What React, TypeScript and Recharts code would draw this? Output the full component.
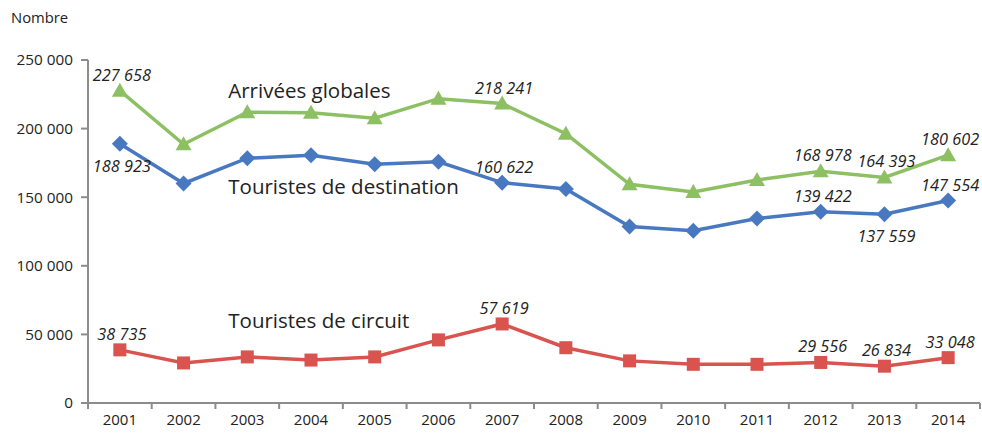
import React from "react"
import { LineChart, Line, XAxis, YAxis } from "recharts"

const years = ["2001", "2002", "2003", "2004", "2005", "2006", "2007", "2008", "2009", "2010", "2011", "2012", "2013", "2014"]
const globales = [227658, 188600, 212000, 211500, 207600, 221800, 218241, 196300, 159400, 153800, 162500, 168978, 164393, 180602]
const destination = [188923, 160000, 178400, 180500, 174000, 175800, 160622, 156000, 128700, 125600, 134500, 139422, 137559, 147554]
const circuit = [38735, 29200, 33600, 31300, 33600, 46000, 57619, 40300, 30700, 28200, 28200, 29556, 26834, 33048]
const yTicks = [0, 50000, 100000, 150000, 200000, 250000]

// which points carry a value label, and where it goes
const globalesLabels: Record<number, "above" | "below"> = { 0: "above", 6: "above", 11: "above", 12: "above", 13: "above" }
const destinationLabels: Record<number, "above" | "below"> = { 0: "below", 6: "above", 11: "above", 12: "below", 13: "above" }
const circuitLabels: Record<number, "above" | "below"> = { 0: "above", 6: "above", 11: "above", 12: "above", 13: "above" }

const GREEN = "#8cc063"
const BLUE = "#4878c0"
const RED = "#d9534f"
const AXIS = "#8c8c8c"
const FONT = "'Open Sans', sans-serif"

const W = 982
const H = 435
const LEFT = 88
const RIGHT = 2
const HALF_BAND = (W - LEFT - RIGHT) / years.length / 2

const data = years.map((year, i) => ({
  year,
  globales: globales[i],
  destination: destination[i],
  circuit: circuit[i],
}))

const fmt = (v: number) => String(v).replace(/\B(?=(\d{3})+(?!\d))/g, " ")

function XTick(props: any) {
  const { x, y, payload, index } = props
  const last = index === years.length - 1
  return (
    <g>
      <line x1={x - HALF_BAND} x2={x - HALF_BAND} y1={y} y2={y + 6} stroke={AXIS} strokeWidth={2} />
      {last && <line x1={x + HALF_BAND} x2={x + HALF_BAND} y1={y} y2={y + 6} stroke={AXIS} strokeWidth={2} />}
      <text x={x} y={y + 22} textAnchor="middle" fontSize={15} fill="#222" fontFamily={FONT}>
        {payload.value}
      </text>
    </g>
  )
}

function Triangle(props: any) {
  const { cx, cy } = props
  if (cx == null || cy == null) return null
  return <path d={`M${cx},${cy - 8} L${cx + 8},${cy + 6} L${cx - 8},${cy + 6} Z`} fill={GREEN} />
}

function Diamond(props: any) {
  const { cx, cy } = props
  if (cx == null || cy == null) return null
  return <path d={`M${cx},${cy - 8} L${cx + 8},${cy} L${cx},${cy + 8} L${cx - 8},${cy} Z`} fill={BLUE} />
}

function Square(props: any) {
  const { cx, cy } = props
  if (cx == null || cy == null) return null
  return <rect x={cx - 6.5} y={cy - 6.5} width={13} height={13} fill={RED} />
}

function makeLabel(spots: Record<number, "above" | "below">, name: string, nameDy: number) {
  return (props: any) => {
    const { x, y, value, index } = props
    const items = []
    if (index === 2) {
      items.push(
        <text key="n" x={x - 19} y={y + nameDy} dominantBaseline="central" fontSize={20.5} fill="#222" fontFamily={FONT}>
          {name}
        </text>
      )
    }
    const pos = spots[index]
    if (pos) {
      items.push(
        <text
          key="v"
          x={x + 2}
          y={pos === "above" ? y - 16 : y + 22}
          textAnchor="middle"
          dominantBaseline="central"
          fontSize={16.3}
          fontStyle="italic"
          fill="#222"
          fontFamily={FONT}
        >
          {fmt(value)}
        </text>
      )
    }
    return <g>{items}</g>
  }
}

export default function App() {
  return (
    <div style={{ position: "fixed", left: 0, top: 0, width: W, height: H, background: "#fff" }}>
      <div style={{ position: "absolute", left: 11, top: 7, fontSize: 14.8, fontFamily: FONT, color: "#222" }}>Nombre</div>
      <LineChart width={W} height={H} data={data} margin={{ top: 60, right: RIGHT, bottom: 0, left: 0 }}>
        <XAxis
          dataKey="year"
          height={32}
          padding={{ left: HALF_BAND, right: HALF_BAND }}
          axisLine={{ stroke: AXIS, strokeWidth: 2 }}
          tickLine={false}
          tickSize={0}
          tickMargin={0}
          interval={0}
          tick={<XTick />}
        />
        <YAxis
          width={LEFT}
          domain={[0, 250000]}
          ticks={yTicks}
          tickFormatter={fmt}
          axisLine={{ stroke: AXIS, strokeWidth: 2 }}
          tickLine={{ stroke: AXIS, strokeWidth: 2 }}
          tickSize={7}
          tickMargin={8}
          tick={{ fill: "#222", fontSize: 15.3, fontFamily: FONT }}
        />
        <Line
          dataKey="circuit"
          stroke={RED}
          strokeWidth={3.5}
          dot={<Square />}
          label={makeLabel(circuitLabels, "Touristes de circuit", -37)}
          isAnimationActive={false}
        />
        <Line
          dataKey="destination"
          stroke={BLUE}
          strokeWidth={3.5}
          dot={<Diamond />}
          label={makeLabel(destinationLabels, "Touristes de destination", 28)}
          isAnimationActive={false}
        />
        <Line
          dataKey="globales"
          stroke={GREEN}
          strokeWidth={3.5}
          dot={<Triangle />}
          label={makeLabel(globalesLabels, "Arrivées globales", -22)}
          isAnimationActive={false}
        />
      </LineChart>
    </div>
  )
}
